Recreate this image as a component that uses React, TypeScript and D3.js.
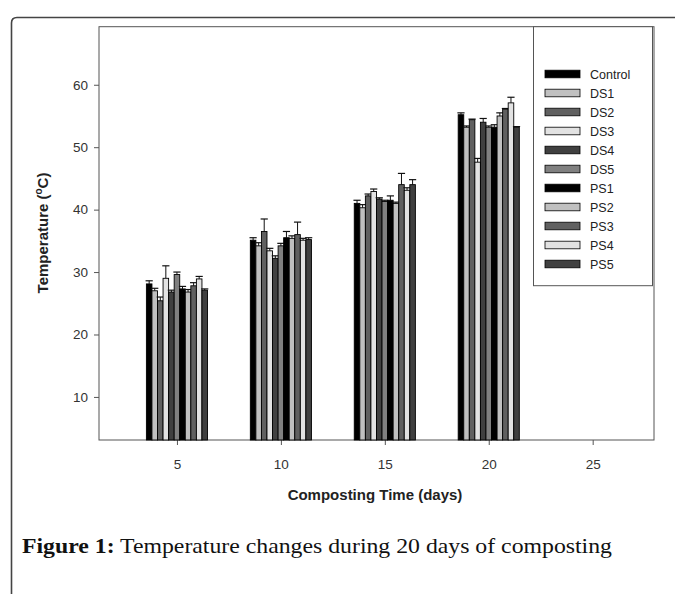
import { useEffect, useRef } from "react";
import * as d3 from "d3";

// composting temperature per treatment
const days = [5, 10, 15, 20];
const series = ["Control", "DS1", "DS2", "DS3", "DS4", "DS5", "PS1", "PS2", "PS3", "PS4", "PS5"];
const fills = ["#000000", "#c0c0c0", "#606060", "#e2e2e2", "#404040", "#808080",
  "#000000", "#c0c0c0", "#606060", "#e2e2e2", "#404040"];

const temp5 = [28.1, 27.0, 25.4, 29.0, 26.8, 29.6, 27.3, 26.8, 27.8, 28.9, 27.1];
const temp10 = [35.1, 34.2, 36.5, 33.4, 32.2, 34.2, 35.5, 35.4, 36.0, 35.1, 35.2];
const temp15 = [41.0, 40.3, 42.2, 42.9, 41.7, 41.3, 41.5, 41.0, 44.0, 43.1, 44.0];
const temp20 = [55.2, 53.2, 54.4, 47.6, 54.0, 53.2, 53.2, 55.0, 56.1, 57.1, 53.2];

const err5 = [0.5, 0.4, 0.6, 2.0, 0.3, 0.4, 0.4, 0.4, 0.5, 0.4, 0.2];
const err10 = [0.4, 0.5, 2.0, 0.4, 0.4, 0.4, 1.0, 0.4, 2.0, 0.3, 0.3];
const err15 = [0.5, 0.5, 0.3, 0.4, 0.2, 0.2, 0.7, 0.2, 1.8, 0.4, 0.8];
const err20 = [0.3, 0.2, 0.1, 0.6, 0.6, 0.2, 0.4, 0.5, 0.1, 0.9, 0.1];

const values = [temp5, temp10, temp15, temp20];
const errors = [err5, err10, err15, err20];

const xTicks = [5, 10, 15, 20, 25];
const yTicks = [10, 20, 30, 40, 50, 60];

const W = 675;
const H = 594;
const P = { left: 99, right: 654, top: 26.7, bottom: 440 };
const groupSpan = 2.94; // days covered by one cluster of 11 bars

export default function App() {
  const ref = useRef<SVGSVGElement>(null);

  useEffect(() => {
    const svg = d3.select(ref.current!);
    svg.selectAll("*").remove();

    const x = d3.scaleLinear().domain([1.25, 27.95]).range([P.left, P.right]);
    const y = d3.scaleLinear().domain([3.1, 69.3]).range([P.bottom, P.top]);
    const inner = d3.scaleBand<string>().domain(series).range([-groupSpan / 2, groupSpan / 2]);

    // outer page frame
    svg.append("path")
      .attr("d", `M11.5,${H} L11.5,23 Q11.5,17.5 17,17.5 L${W},17.5`)
      .attr("fill", "none")
      .attr("stroke", "#444")
      .attr("stroke-width", 1.6);

    // plot box
    svg.append("rect")
      .attr("x", P.left).attr("y", P.top)
      .attr("width", P.right - P.left).attr("height", P.bottom - P.top)
      .attr("fill", "none").attr("stroke", "#555").attr("stroke-width", 1);

    const font = "Liberation Sans, Arial, sans-serif";

    const xAxis = svg.append("g")
      .attr("transform", `translate(0,${P.bottom})`)
      .call(d3.axisBottom(x).tickValues(xTicks).tickSize(5).tickPadding(14).tickFormat(d3.format("d")));
    const yAxis = svg.append("g")
      .attr("transform", `translate(${P.left},0)`)
      .call(d3.axisLeft(y).tickValues(yTicks).tickSize(5).tickPadding(6).tickFormat(d3.format("d")));
    [xAxis, yAxis].forEach((a) => {
      a.select(".domain").remove();
      a.selectAll("line").attr("stroke", "#555");
      a.selectAll("text").attr("fill", "#333").style("font-family", font).style("font-size", "13.5px");
    });

    // bars
    const bars = svg.append("g");
    days.forEach((day, gi) => {
      series.forEach((s, i) => {
        const v = values[gi][i];
        const e = errors[gi][i];
        const x0 = x(day + inner(s)!);
        const x1 = x(day + inner(s)! + inner.bandwidth());
        const cx = (x0 + x1) / 2;
        bars.append("line")
          .attr("x1", cx).attr("x2", cx)
          .attr("y1", y(v)).attr("y2", y(v + e))
          .attr("stroke", "#111").attr("stroke-width", 1);
        bars.append("line")
          .attr("x1", cx - 3.6).attr("x2", cx + 3.6)
          .attr("y1", y(v + e)).attr("y2", y(v + e))
          .attr("stroke", "#111").attr("stroke-width", 1.2);
        bars.append("rect")
          .attr("x", x0).attr("y", y(v))
          .attr("width", x1 - x0).attr("height", y(3.1) - y(v))
          .attr("fill", fills[i])
          .attr("stroke", "#000").attr("stroke-width", 0.9);
      });
    });

    // legend
    const lg = svg.append("g");
    lg.append("rect")
      .attr("x", 533.5).attr("y", 26.7).attr("width", 119).attr("height", 259)
      .attr("fill", "#fff").attr("stroke", "#555").attr("stroke-width", 1);
    series.forEach((s, i) => {
      const ry = 74 + i * 19;
      lg.append("rect")
        .attr("x", 545).attr("y", ry - 3.8).attr("width", 35).attr("height", 7.6)
        .attr("fill", fills[i]).attr("stroke", "#000").attr("stroke-width", 0.8);
      lg.append("text")
        .attr("x", 590).attr("y", ry + 4.5)
        .style("font-family", font).style("font-size", "12.5px").attr("fill", "#222")
        .text(s);
    });

    // axis titles
    svg.append("text")
      .attr("x", 375).attr("y", 500)
      .attr("text-anchor", "middle")
      .style("font-family", font).style("font-size", "15px").style("font-weight", "bold")
      .attr("fill", "#222")
      .text("Composting Time (days)");

    const yt = svg.append("text")
      .attr("transform", `translate(48,233) rotate(-90)`)
      .attr("text-anchor", "middle")
      .style("font-family", font).style("font-size", "15px").style("font-weight", "bold")
      .attr("fill", "#222");
    yt.append("tspan").text("Temperature (");
    yt.append("tspan").attr("dy", -6).style("font-size", "10px").text("o");
    yt.append("tspan").attr("dy", 6).text("C)");

    // caption
    const cap = svg.append("text")
      .attr("x", 22).attr("y", 553)
      .attr("textLength", 590).attr("lengthAdjust", "spacingAndGlyphs")
      .style("font-family", "Liberation Serif, Times New Roman, serif")
      .style("font-size", "22px").attr("fill", "#111");
    cap.append("tspan").style("font-weight", "bold").text("Figure 1:");
    cap.append("tspan").text(" Temperature changes during 20 days of composting");
  }, []);

  return (
    <svg
      ref={ref}
      width={W}
      height={H}
      viewBox={`0 0 ${W} ${H}`}
      style={{ position: "absolute", left: 0, top: 0, background: "#fff" }}
    />
  );
}
